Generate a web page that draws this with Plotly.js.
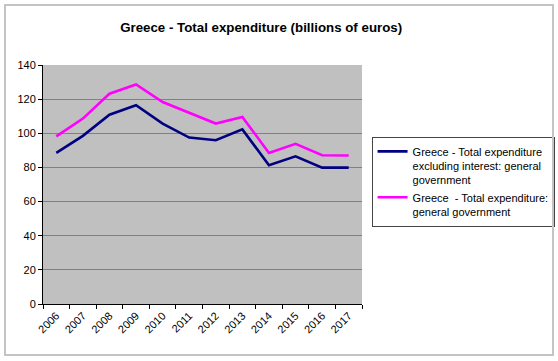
<!DOCTYPE html>
<html>
<head>
<meta charset="utf-8">
<script src="https://cdn.plot.ly/plotly-3.0.1.min.js"></script>
<style>
html,body{margin:0;padding:0;background:#fff;}
#wrap{position:relative;width:558px;height:361px;}
#frame{position:absolute;left:4px;top:4px;width:546px;height:348px;border:2px solid #c4c4c4;pointer-events:none;}
#chart{position:absolute;left:0;top:0;width:558px;height:361px;}
</style>
</head>
<body>
<div id="wrap"><div id="chart"></div><div id="frame"></div></div>
<script>
const years = ["2006","2007","2008","2009","2010","2011","2012","2013","2014","2015","2016","2017"];
const exclInterest = [88.5, 98.5, 110.9, 116.4, 105.7, 97.5, 95.9, 102.3, 81.3, 86.5, 79.9, 79.9];
const totalExp = [98.2, 108.6, 123.2, 128.6, 118.3, 112.0, 105.7, 109.6, 88.5, 93.8, 87.1, 87.0];
const seriesNames = ["Greece - Total expenditure<br>excluding interest: general<br>government", "Greece  - Total expenditure:<br>general government"];
const titleText = "Greece - Total expenditure (billions of euros)";

const font = "Arial, 'Liberation Sans', sans-serif";
const traces = [
  {x: years, y: exclInterest, name: seriesNames[0], type: "scatter", mode: "lines", line: {color: "#000080", width: 2.6}},
  {x: years, y: totalExp, name: seriesNames[1], type: "scatter", mode: "lines", line: {color: "#ff00ff", width: 2.6}}
];
const layout = {
  width: 558, height: 361,
  margin: {l: 43, r: 196, t: 65, b: 57, pad: 0, autoexpand: false},
  paper_bgcolor: "rgba(0,0,0,0)",
  plot_bgcolor: "#c0c0c0",
  font: {family: font, size: 11, color: "#000"},
  title: {text: titleText, font: {family: font, size: 13.3, color: "#000", weight: "bold"}, x: 0.468, xanchor: "center", y: 0.925, yanchor: "middle"},
  xaxis: {type: "category", range: [-0.5, 11.5], tickangle: -45, ticks: "outside", tickson: "boundaries", ticklen: 4, tickcolor: "#000",
          showgrid: false, showline: true, linecolor: "#000", linewidth: 1, mirror: false, tickfont: {size: 11, family: font}, fixedrange: true},
  yaxis: {range: [0, 140], dtick: 20, ticks: "outside", ticklen: 4, tickcolor: "#000", showline: true, linecolor: "#000", linewidth: 1,
          gridcolor: "#808080", gridwidth: 1, zeroline: false, tickfont: {size: 11, family: font}, fixedrange: true},
  showlegend: true,
  legend: {x: 1.03, xanchor: "left", y: 0.70, yanchor: "top", bgcolor: "#fff", bordercolor: "#444", borderwidth: 1,
           font: {size: 11, family: font}, tracegroupgap: 2, itemwidth: 30, valign: "top"}
};
Plotly.newPlot("chart", traces, layout, {displayModeBar: false, staticPlot: true});
</script>
</body>
</html>
